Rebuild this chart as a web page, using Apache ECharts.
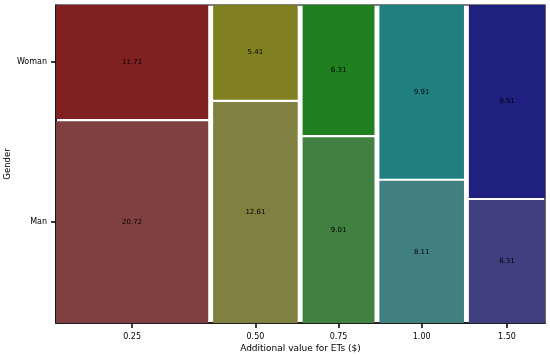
<!DOCTYPE html>
<html>
<head>
<meta charset="utf-8">
<script src="https://cdn.jsdelivr.net/npm/echarts@6/dist/echarts.min.js"></script>
<style>html,body{margin:0;padding:0;background:#fff}#c{width:550px;height:356px}</style>
</head>
<body>
<div id="c"></div>
<script>
// ---- data ----
var categories = ['0.25', '0.50', '0.75', '1.00', '1.50'];
var genders = ['Man', 'Woman'];
var manValues = [20.72, 12.61, 9.01, 8.11, 6.31];
var womanValues = [11.71, 5.41, 6.31, 9.91, 9.91];
var womanColors = ['#802020', '#808020', '#208020', '#208080', '#202080'];
var manColors = ['#804040', '#808040', '#408040', '#408080', '#404080'];

// ---- mosaic layout (in data units 0..1) ----
var gapX = 0.01, gapY = 0.0067;
var colTotals = categories.map(function (c, i) { return manValues[i] + womanValues[i]; });
var grand = colTotals.reduce(function (a, b) { return a + b; }, 0);
var availX = 1 - gapX * (categories.length - 1);
var tiles = [];
var colCenters = [];
var rowCenters = [];
var xPos = 0;
for (var i = 0; i < categories.length; i++) {
  var w = colTotals[i] / grand * availX;
  var availY = 1 - gapY;
  var hMan = manValues[i] / colTotals[i] * availY;
  tiles.push({ x0: xPos, x1: xPos + w, y0: 0, y1: hMan, v: manValues[i], color: manColors[i] });
  tiles.push({ x0: xPos, x1: xPos + w, y0: hMan + gapY, y1: 1, v: womanValues[i], color: womanColors[i] });
  colCenters.push(xPos + w / 2);
  if (i === 0) {
    rowCenters = [hMan / 2, (hMan + gapY + 1) / 2];
  }
  xPos += w + gapX;
}

var chart = echarts.init(document.getElementById('c'), null, { renderer: 'canvas' });
var font = 'DejaVu Sans';
chart.setOption({
  animation: false,
  grid: { left: 56, right: 5, top: 5, bottom: 33, containLabel: false, outerBoundsMode: 'none', show: true, borderColor: '#000', borderWidth: 1.2, backgroundColor: 'transparent' },
  xAxis: {
    type: 'value', min: 0, max: 1,
    name: 'Additional value for ETs ($)', nameLocation: 'middle', nameGap: 21, nameMoveOverlap: false,
    nameTextStyle: { fontFamily: font, fontSize: 9, color: '#000' },
    splitLine: { show: false },
    axisLine: { show: true, lineStyle: { color: '#000', width: 1.5 } },
    axisTick: { show: true, customValues: colCenters, length: 5, lineStyle: { color: '#000', width: 1.5 } },
    axisLabel: {
      customValues: colCenters, margin: 10, fontFamily: font, fontSize: 8, color: '#000',
      formatter: function (v) {
        var best = 0;
        for (var k = 0; k < colCenters.length; k++) if (Math.abs(colCenters[k] - v) < Math.abs(colCenters[best] - v)) best = k;
        return categories[best];
      }
    }
  },
  yAxis: {
    type: 'value', min: 0, max: 1,
    name: 'Gender', nameLocation: 'middle', nameGap: 44, nameRotate: 90, nameMoveOverlap: false,
    nameTextStyle: { fontFamily: font, fontSize: 8.5, color: '#000' },
    splitLine: { show: false },
    axisLine: { show: true, lineStyle: { color: '#000', width: 1.5 } },
    axisTick: { show: true, customValues: rowCenters, length: 5, lineStyle: { color: '#000', width: 1.5 } },
    axisLabel: {
      customValues: rowCenters, margin: 9, fontFamily: font, fontSize: 8, color: '#000',
      formatter: function (v) {
        return Math.abs(v - rowCenters[0]) < Math.abs(v - rowCenters[1]) ? genders[0] : genders[1];
      }
    }
  },
  series: [{
    type: 'custom',
    data: tiles.map(function (t, i) { return [t.x0, t.x1, t.y0, t.y1, t.v, i]; }),
    encode: { x: [0, 1], y: [2, 3] },
    renderItem: function (params, api) {
      var p0 = api.coord([api.value(0), api.value(3)]);
      var p1 = api.coord([api.value(1), api.value(2)]);
      var t = tiles[api.value(5)];
      return {
        type: 'group',
        children: [{
          type: 'rect',
          shape: { x: p0[0], y: p0[1], width: p1[0] - p0[0], height: p1[1] - p0[1] },
          style: { fill: t.color }
        }, {
          type: 'text',
          style: {
            text: api.value(4).toFixed(2), x: (p0[0] + p1[0]) / 2, y: (p0[1] + p1[1]) / 2,
            align: 'center', verticalAlign: 'middle', fill: '#000', font: '7px "DejaVu Sans"'
          }
        }]
      };
    }
  }]
});
</script>
</body>
</html>
